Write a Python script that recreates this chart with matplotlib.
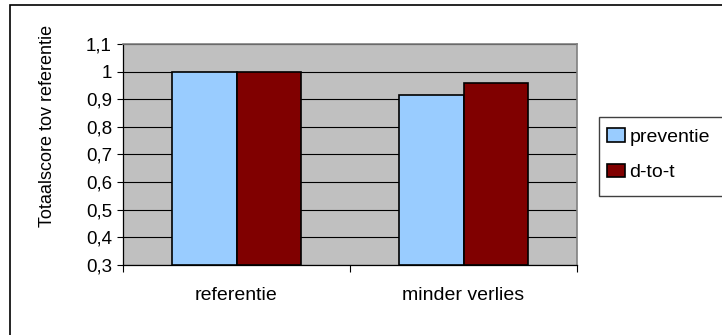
import numpy as np
import matplotlib
matplotlib.use('agg')
import matplotlib.pyplot as plt
from matplotlib.patches import Rectangle
from matplotlib.ticker import FuncFormatter, MultipleLocator

categories = ['referentie', 'minder verlies']
series_names = ['preventie', 'd-to-t']
preventie = [1.0, 0.915]
d_to_t = [1.0, 0.96]
colors = ['#99CCFF', '#800000']

plt.rcParams['font.family'] = ['Liberation Sans', 'DejaVu Sans']

fig = plt.figure(figsize=(7.22, 3.35), dpi=100)
W, H = 722, 335


def comma_fmt(v, pos):
    s = f'{v:.1f}'
    if s.endswith('.0'):
        s = s[:-2]
    return s.replace('.', ',')


# outer chart frame (only left/top edges fall inside the image)
fig.patches.append(Rectangle((9.5 / W, -0.1), 1.2, 1 - 5 / H + 0.1,
                             transform=fig.transFigure, fill=False,
                             edgecolor='black', linewidth=1.2, clip_on=False))

ax = fig.add_axes([123 / W, 1 - 265 / H, (577 - 123) / W, (265 - 44) / H])
ax.set_facecolor('#C0C0C0')

x = np.arange(len(categories))
width = 0.286
for i, (vals, name) in enumerate(zip([preventie, d_to_t], series_names)):
    offset = (i - 0.5) * width
    ax.bar(x + offset, np.array(vals) - 0.3, width, bottom=0.3, color=colors[i],
           edgecolor='black', linewidth=1.2, label=name, zorder=3)

ax.set_ylim(0.3, 1.1)
ax.set_xlim(-0.5, 1.5)
ax.yaxis.set_major_locator(MultipleLocator(0.1))
ax.yaxis.set_major_formatter(FuncFormatter(comma_fmt))
ax.grid(axis='y', color='black', linewidth=0.8, zorder=1)
ax.tick_params(axis='y', direction='out', length=4, width=0.8, labelsize=13.5, pad=4)

# category boundaries get tick marks, labels sit at the centres
ax.set_xticks([-0.5, 0.5, 1.5])
ax.set_xticklabels([])
ax.set_xticks(x, minor=True)
ax.set_xticklabels(categories, minor=True)
ax.tick_params(axis='x', which='major', direction='out', length=5, width=0.8)
ax.tick_params(axis='x', which='minor', length=0, labelsize=14, pad=16)

for s in ['top', 'right']:
    ax.spines[s].set_color('#808080')
    ax.spines[s].set_linewidth(1.2)
for s in ['left', 'bottom']:
    ax.spines[s].set_color('black')
    ax.spines[s].set_linewidth(0.9)

fig.text(48 / W, 1 - 126 / H, 'Totaalscore tov referentie', rotation=90,
         ha='center', va='center', fontsize=13)

# legend box runs past the right edge
fig.patches.append(Rectangle((599 / W, 1 - 196 / H), 0.3, 79 / H,
                             transform=fig.transFigure, facecolor='white',
                             edgecolor='#404040', linewidth=1.0, clip_on=False))
leg = fig.legend(loc='upper left', bbox_to_anchor=(607 / W, 1 - 128 / H),
                 frameon=False, fontsize=14, handlelength=0.95, handleheight=0.7,
                 handletextpad=0.2, labelspacing=0.93, borderaxespad=0, borderpad=0)

fig.savefig('out.png', dpi=100)
